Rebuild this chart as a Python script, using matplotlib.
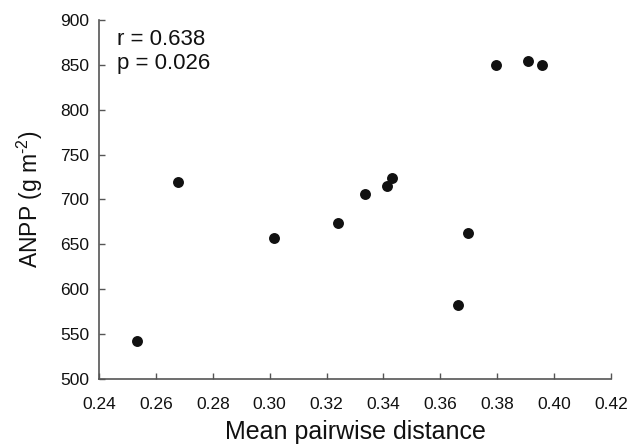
import matplotlib.pyplot as plt
import numpy as np

# mean pairwise distance vs ANPP
mpd = [0.2535, 0.2677, 0.3014, 0.3240, 0.3336, 0.3412, 0.3431, 0.3661, 0.3696, 0.3797, 0.3908, 0.3959]
anpp = [542, 719, 657, 674, 706, 715, 724, 582, 662, 850, 854, 850]

xticks = [0.24, 0.26, 0.28, 0.30, 0.32, 0.34, 0.36, 0.38, 0.40, 0.42]
yticks = [500, 550, 600, 650, 700, 750, 800, 850, 900]

plt.rcParams['font.family'] = ['Liberation Sans', 'DejaVu Sans']
plt.rcParams['mathtext.fontset'] = 'custom'
plt.rcParams['mathtext.rm'] = 'Liberation Sans'
plt.rcParams['mathtext.it'] = 'Liberation Sans'

fig = plt.figure(figsize=(6.33, 4.46), dpi=100)
ax = fig.add_axes([0.1564, 0.151, 0.8089, 0.804])

ax.scatter(mpd, anpp, s=62, color='#111111', zorder=3, linewidths=0)

ax.set_xlim(0.24, 0.42)
ax.set_ylim(500, 900)
ax.set_xticks(xticks)
ax.set_yticks(yticks)
ax.set_xticklabels(['%.2f' % t for t in xticks])
ax.set_yticklabels([str(t) for t in yticks])

for s in ['top', 'right']:
    ax.spines[s].set_visible(False)
for s in ['left', 'bottom']:
    ax.spines[s].set_color('#555555')
    ax.spines[s].set_linewidth(1.2)

ax.tick_params(direction='in', length=4, width=1, color='#555555',
               labelsize=12.5, labelcolor='#111111')
ax.tick_params(axis='x', pad=13)
ax.tick_params(axis='y', pad=7)

ax.set_xlabel('Mean pairwise distance', fontsize=18, color='#111111', labelpad=6)
ax.set_ylabel(r'ANPP (g m$^{\text{-2}}$)', fontsize=16.5, color='#111111', labelpad=11)

ax.text(0.035, 0.975, 'r = 0.638\np = 0.026', transform=ax.transAxes,
        fontsize=16, va='top', ha='left', color='#111111', linespacing=1.2)

fig.savefig('out.png', dpi=100)
